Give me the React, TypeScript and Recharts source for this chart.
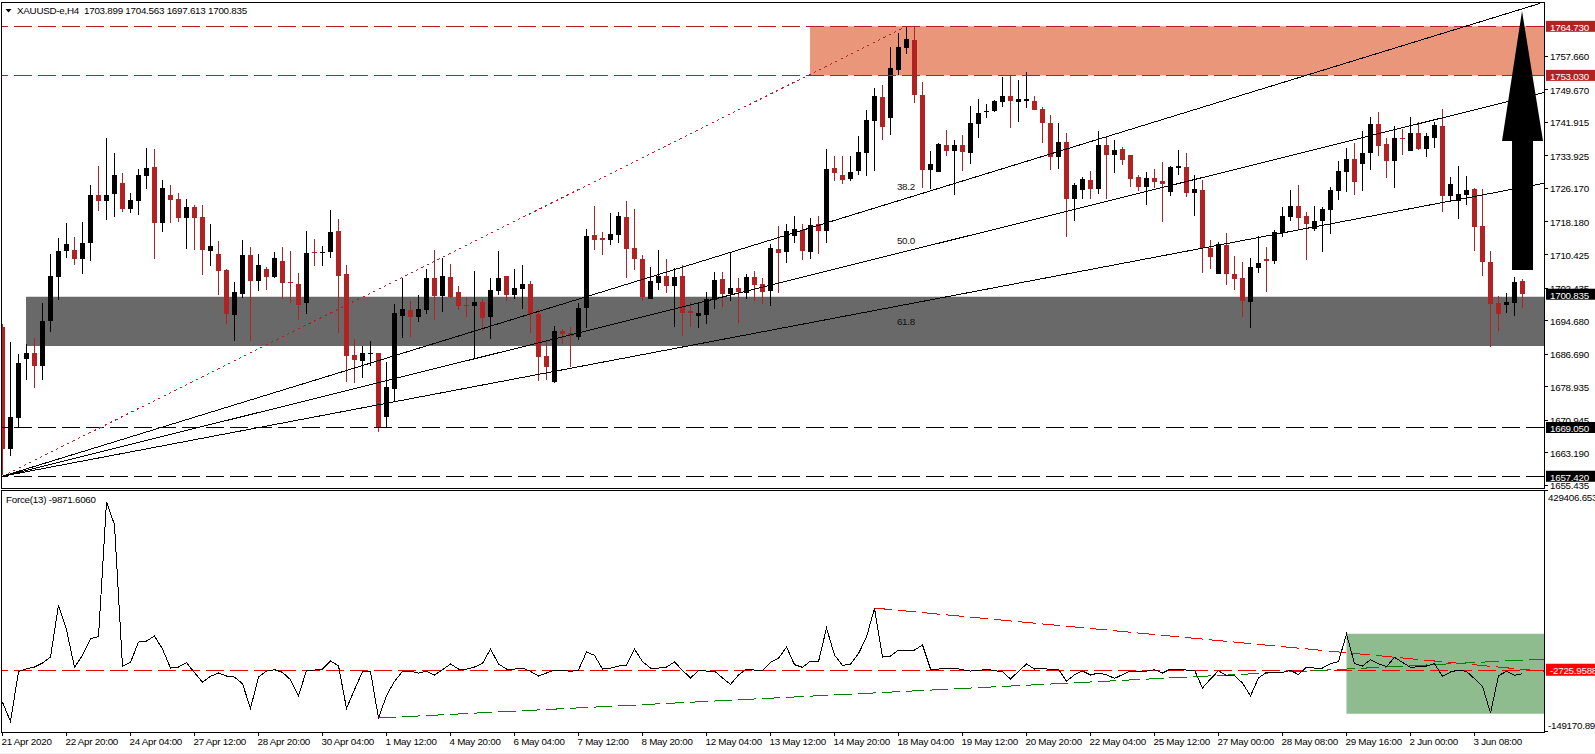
import {
  Bar,
  ComposedChart,
  Line,
  ReferenceArea,
  ReferenceDot,
  ReferenceLine,
  XAxis,
  YAxis,
} from "recharts";

const opens = [
  1693.1,1664,1671.4,1685.4,1686.8,1683.8,1694.5,1705,1711.1,1711.4,
  1709.2,1713,1724.5,1723.1,1724.7,1727.4,1721.2,1723.1,1729.1,1731.2,
  1717.8,1724.5,1723.5,1719,1721.6,1719.2,1711.1,1710.4,1706.6,1695.9,
  1700.9,1710.2,1704,1706.8,1705,1708.7,1703.8,1703.3,1698.7,1710.9,
  1710.7,1710.9,1715.9,1705.7,1686.3,1684.9,1686.5,1686.8,1671.5,1678.2,
  1695.6,1697.1,1695.4,1697.1,1704.7,1700.4,1704.9,1701.4,1698.2,1698,
  1699,1695.4,1701.6,1705.2,1700.6,1702.1,1703.3,1696.1,1686.1,1679.9,
  1692,1691.6,1690.6,1697.5,1714.9,1714.2,1713.8,1715,1719.2,1711.9,
  1709.2,1699.7,1703.5,1705.2,1702.8,1705.2,1696.8,1695.6,1695.9,1699.4,
  1704.5,1700.9,1702.3,1701.1,1704.9,1703.3,1701.6,1711.6,1710.9,1714.7,
  1716.2,1710.9,1717.6,1715.9,1730.9,1729.3,1728.3,1730.2,1734.5,1742.1,
  1747.9,1742.9,1754.3,1759.6,1761.5,1748.3,1730.4,1730,1736.4,1735,
  1736.4,1734.5,1741.4,1744.4,1744.5,1746.7,1748.1,1746.7,1746.9,1746.9,
  1745,1741.7,1733.6,1737.1,1723.5,1725.7,1728.1,1725.9,1736.4,1734,
  1735.5,1734,1728.8,1726.4,1728.6,1727.8,1725.2,1730.9,1731.2,1725,
  1725.8,1711.9,1705.6,1712.6,1705.6,1704.6,1698.9,1707,1709.2,1708.7,
  1715.4,1719.3,1721.9,1719.5,1716.4,1718.3,1721,1725.5,1729.9,1733.2,
  1731.8,1734.4,1741.4,1736.6,1732.7,1738.2,1735.1,1739.2,1735.4,1738.2,
  1740.9,1724.3,1723.1,1724.6,1725.9,1717.1,1708.5,1698.7,1698.2,1698.7,1703.899,
];

const highs = [
  1693.7,1689.5,1686.5,1689,1690.5,1698.7,1710.4,1714.2,1717.8,1714.5,
  1718,1726.9,1731.4,1738.1,1734.5,1729.7,1725,1730.7,1735.7,1735.5,
  1728.1,1726.9,1725,1723.5,1722.1,1722.1,1717.6,1713.5,1706.8,1703.7,
  1713.8,1712.1,1710.4,1707.3,1710.9,1712.1,1711.1,1705.9,1715.9,1714,
  1712.3,1720.9,1718.8,1707.8,1690.1,1688.5,1689.7,1686.8,1684.7,1698.5,
  1704.7,1699.2,1700.6,1706.8,1711.4,1709.4,1708,1702.8,1700.2,1706.4,
  1699.7,1704.7,1711.1,1705.2,1706.8,1707.8,1704,1697.3,1689.9,1693.2,
  1692.5,1693,1698.7,1716.4,1721.9,1715.7,1720.2,1720.4,1723.1,1721.2,
  1710.2,1707.3,1711.4,1709.2,1707.1,1707.8,1699,1698.7,1701.4,1706.1,
  1706.1,1710.7,1704.7,1705.6,1706.4,1704.7,1712.8,1717.1,1717.6,1719.5,
  1717.5,1719,1719.5,1735.5,1733.8,1733.8,1733.8,1738.6,1744.8,1750,
  1750.7,1759.8,1763.1,1764.7,1764.8,1751.4,1735,1736.9,1740,1737.6,
  1738.8,1745.7,1747.4,1746.2,1747.1,1752.6,1753.1,1751.9,1753.8,1748.1,
  1745.5,1743.6,1741.7,1739.3,1727.3,1728.8,1730.2,1739.8,1738.3,1737.6,
  1735.9,1734,1729.2,1730,1730.7,1732.4,1731.3,1735.2,1734.5,1729.3,
  1728,1713.8,1713.3,1715.4,1710,1708.5,1709.4,1714.7,1712.1,1716.2,
  1721.7,1725.8,1727,1720.5,1721.9,1721.7,1726.5,1732.7,1735.6,1736.8,
  1739.7,1743,1744.2,1738,1740.9,1740.2,1743,1741.8,1739.4,1741.9,
  1745,1728.9,1731.3,1729.1,1726.15,1726,1711.2,1700.4,1701.1,1704.9,1704.563,
];

const lows = [
  1657.7,1662.2,1669.1,1680.4,1678.5,1680.4,1691.9,1699.5,1709.5,1707.8,
  1705.7,1708.7,1720.7,1718.5,1719.2,1720.4,1720.2,1719.7,1725.9,1709.3,
  1715.7,1717.8,1718.1,1711.6,1711.4,1705.4,1707.6,1700.6,1693.7,1689.7,
  1700,1689.7,1701.6,1701.8,1704.7,1699.7,1698.7,1694.7,1696.1,1707.6,
  1707.6,1709.5,1691.6,1679.9,1679.7,1680.8,1683.7,1668,1669.1,1675.1,
  1690.4,1690.6,1694.2,1696,1694.7,1696.6,1700,1697.1,1695.4,1685.6,
  1692,1690.2,1700.6,1699.2,1699.7,1697.3,1691.6,1680.1,1680.4,1679.6,
  1689,1683.5,1689.9,1692.8,1711.4,1710.2,1712.6,1713,1704.7,1706.6,
  1699.2,1699.7,1701.8,1701.1,1693,1690.9,1693,1692.8,1693.7,1697.3,
  1697.8,1699.2,1694,1699.7,1699.2,1698.5,1698,1701.1,1708.3,1713,
  1709,1709.2,1710.4,1713,1727.8,1727.1,1727.8,1729.2,1729,1730.2,
  1737.6,1738.8,1753.1,1758.1,1746.4,1726.2,1725.9,1730,1733.8,1724.5,
  1730.2,1731.9,1738.1,1742.9,1744.3,1745.5,1740.5,1741.9,1745.2,1744.7,
  1736.9,1730.4,1730.7,1714.5,1718.3,1723.5,1723.5,1724.7,1723.5,1729.7,
  1731.6,1726.4,1725.4,1722.1,1726.2,1718.1,1724.2,1729.3,1724,1719.5,
  1705.9,1707,1705.6,1703,1702,1695.5,1692.6,1705.9,1701.3,1708,
  1714.5,1718.3,1716.4,1709,1715.9,1710.9,1715.4,1723.4,1725,1724.3,
  1725.5,1730.3,1733.7,1728.4,1726.2,1733.9,1734.9,1735.1,1733.7,1735.8,
  1720.5,1723.1,1718.6,1722.2,1711.2,1705.2,1688.2,1692,1696.3,1695.6,1697.613,
];

const closes = [
  1664,1671.5,1684.4,1686.8,1683.8,1694.4,1705.2,1711.1,1712.8,1709.2,
  1713,1724.5,1723.1,1724.5,1729.3,1721.2,1723.3,1729.3,1730.9,1717.8,
  1726.2,1723.3,1719,1721.6,1719,1711.4,1712.3,1706.4,1696.1,1701.4,
  1710.2,1704,1707.8,1705,1709.5,1703.5,1703.5,1698.3,1710.7,1710.7,
  1710.9,1715.7,1705.2,1686.1,1685.1,1686.8,1686.7,1669.2,1678.7,1696.3,
  1697.3,1695.4,1697.3,1704.7,1700.4,1705.2,1700.2,1698,1698.1,1699,
  1695.2,1701.8,1704.7,1700.6,1702.3,1703.3,1696.1,1685.9,1683.5,1692,
  1691.3,1690.9,1697.5,1714.7,1713.8,1713.8,1715.2,1719.5,1711.6,1709.2,
  1700.2,1704,1705.2,1702.8,1704.9,1696.3,1696.3,1696.3,1699.7,1704.2,
  1700.9,1702.3,1701.4,1704.9,1703,1701.4,1711.9,1710.7,1715.9,1716.4,
  1711.1,1717.3,1715.9,1730.7,1729.7,1728.1,1730,1734.8,1742.4,1748.1,
  1740.7,1754.8,1759.8,1761.7,1748.3,1730.4,1731.9,1736.7,1735,1736.4,
  1734.7,1741.7,1744,1744.5,1746.9,1748.1,1746.9,1747.4,1747.4,1744.8,
  1741.7,1733.6,1737.1,1723.5,1726.9,1728.3,1725.9,1736.4,1734,1735.2,
  1732.8,1728.3,1726.4,1728.6,1727.6,1727.1,1731.2,1731.4,1725,1725.9,
  1711.9,1709.7,1712.8,1705.6,1704.4,1699.1,1707.3,1708.2,1708.7,1715.7,
  1719.5,1721.9,1719,1717.6,1718.3,1721.2,1725.8,1730.3,1733.2,1727.7,
  1734.4,1741.4,1736.1,1732.7,1738.2,1737.9,1739.4,1735.4,1738.5,1741.1,
  1724.3,1727.2,1724.8,1725.8,1716.8,1708.5,1698.5,1696.1,1698.9,1703.7,1700.835,
];

const force = [
  -78298,-123722,-4984,2189,6172,15736,30080,154387,95426,5375,
  34064,73900,78682,400639,346450,7767,17330,65931,68322,80276,
  49205,3782,6172,16533,-7375,-30000,-16140,-8171,-15343,-17734,
  -33672,-92642,-17734,-3390,-202,-6578,-24109,-63153,-1796,-999,
  1391,20517,9361,-92642,-48012,-4984,-4984,-115752,-62356,-28094,
  -4187,-3390,-8171,-4187,-12952,-202,13345,1391,1391,6172,
  14939,49205,13345,1391,1391,3782,-4187,-15343,-8171,-999,
  -999,-4187,-999,42033,34064,1391,3782,8564,10955,49205,
  18924,3782,3782,6172,18127,-1796,-20125,-2593,-3390,-3390,
  -20125,-35266,-12952,1391,-999,-2593,17330,26892,53986,11752,
  5375,20517,18924,99401,34861,10158,13345,38048,77885,146418,
  30080,32470,46814,46814,46814,58768,1391,1391,3782,3782,
  -202,-3390,-2593,1391,-2593,-4984,-22515,-4187,13345,1391,
  3782,-202,1391,-28094,-12156,-3390,-12952,-8171,-12156,-20921,
  -12156,-3390,-3390,-3390,-202,-8171,1391,1391,-999,-999,
  -44031,-22515,-2593,-14547,-14547,-32078,-63153,-20125,-6578,-6578,
  -6578,-1796,-12156,6172,3782,3782,14142,18924,85057,14142,
  8564,23705,14142,6969,29283,17330,5375,6969,8564,14142,
  -16140,-5781,-999,-4187,-21718,-40047,-103799,-14547,-4187,-13749,-9871.606,
];

const tickLabels = [
  "21 Apr 2020","22 Apr 20:00","24 Apr 04:00","27 Apr 12:00","28 Apr 20:00","30 Apr 04:00",
  "1 May 12:00","4 May 20:00","6 May 04:00","7 May 12:00","8 May 20:00","12 May 04:00",
  "13 May 12:00","14 May 20:00","18 May 04:00","19 May 12:00","20 May 20:00","22 May 04:00",
  "25 May 12:00","27 May 00:00","28 May 08:00","29 May 16:00","2 Jun 00:00","3 Jun 08:00",
];

const priceTicks = [
  1757.66,1749.67,1741.915,1733.925,1726.17,1718.18,1710.425,1702.435,
  1694.68,1686.69,1678.935,1670.945,1663.19,1655.435,
];
const resistance = [1764.73, 1753.03];
const support = [1669.05, 1657.42];
const lastPrice = 1700.835;
const forceTicks = [429406.653, -149170.891];
const forceLevel = -2725.9588;

const fanLabels = ["38.2", "50.0", "61.8"];
const fanLabelPrices = [1726.6, 1713.8, 1694.4];
const fanEndBars = [192.2, 192.68, 192.68];
const fanEndPrices = [1770.2, 1748.94, 1727.3];

const BAR_DOMAIN: [number, number] = [-0.0625, 192.6875];
const RED = "#b22222";
const FONT = "'Liberation Sans', Arial, sans-serif";
const DASH = "18 6";
const textStyle = { fontFamily: FONT, fontSize: 9.8, letterSpacing: -0.25 };

const rows = opens.map((open, i) => ({
  idx: i,
  open,
  high: highs[i],
  low: lows[i],
  close: closes[i],
  force: force[i],
}));
const xTicks = tickLabels.map((_, i) => i * 8);

function Candle(props: any) {
  const { x, y, width, height, payload } = props;
  const { open, high, low, close } = payload;
  const perUnit = height / (high - low);
  const col = Math.floor(x + width / 2);
  const yOf = (p: number) => y + (high - p) * perUnit;
  const top = Math.round(yOf(Math.max(open, close)));
  const bottom = Math.round(yOf(Math.min(open, close)));
  const fill = close < open ? RED : "#000";
  return (
    <g shapeRendering="crispEdges">
      <rect x={col} y={Math.round(y)} width={1} height={Math.max(1, Math.round(height))} fill={fill} />
      <rect x={col - 2} y={top} width={5} height={Math.max(1, bottom - top)} fill={fill} />
    </g>
  );
}

function PriceTick({ x, y, payload }: any) {
  const v = payload.value;
  const box = resistance.includes(v) ? RED : support.includes(v) || v === lastPrice ? "#000" : null;
  return (
    <g>
      {box ? (
        <rect x={x + 2} y={y - 5.5} width={50} height={11} fill={box} />
      ) : (
        <rect x={x} y={Math.round(y)} width={4} height={1} fill="#000" />
      )}
      <text x={x + 6} y={y + 4.5} style={textStyle} fill={box ? "#fff" : "#000"}>
        {v.toFixed(3)}
      </text>
    </g>
  );
}

function ForceTick({ x, y, payload }: any) {
  const v = payload.value;
  if (v === forceLevel) {
    return (
      <g>
        <rect x={x + 2} y={y - 7} width={50} height={12} fill="#ff0000" />
        <text x={x + 6} y={y + 3} style={textStyle} fill="#fff">
          {v.toFixed(4)}
        </text>
      </g>
    );
  }
  const dy = v > 0 ? 11 : -3;
  return (
    <g>
      <rect x={x} y={Math.round(y) - (v > 0 ? 0 : 1)} width={4} height={1} fill="#000" />
      <text x={x + 4} y={y + dy} style={textStyle} fill="#000">
        {v.toFixed(3)}
      </text>
    </g>
  );
}

function DateTick({ x, y, payload }: any) {
  return (
    <g>
      <rect x={Math.floor(x)} y={y} width={1} height={4} fill="#000" />
      <text x={x - 1} y={y + 12.5} style={textStyle} fill="#000">
        {tickLabels[payload.value / 8]}
      </text>
    </g>
  );
}

function UpArrow({ cx, cy }: any) {
  const pts = [
    [0, 0], [21, 130], [11, 130], [11, 259], [-10, 259], [-10, 130], [-20, 130],
  ];
  return <polygon points={pts.map(([a, b]) => `${cx + a},${cy + b}`).join(" ")} fill="#000" />;
}

function FanLabel({ cx, cy, text }: any) {
  return (
    <text x={cx} y={cy + 4} style={textStyle} fill="#111">
      {text}
    </text>
  );
}

function Frame({ left, top, width, height }: any) {
  return <div style={{ position: "absolute", left, top, width, height, background: "#000" }} />;
}

export default function App() {
  return (
    <div style={{ position: "absolute", left: 0, top: 0, width: 1595, height: 754, overflow: "hidden", background: "#fff" }}>
      <div style={{ position: "absolute", left: 0, top: 0 }}>
        <ComposedChart width={1595} height={500} data={rows} margin={{ top: 2, right: 0, bottom: 11, left: 2 }}>
          <XAxis dataKey="idx" type="number" domain={BAR_DOMAIN} hide allowDataOverflow />
          <YAxis
            orientation="right"
            width={51}
            domain={[1654.38, 1770.53]}
            allowDataOverflow
            ticks={[...priceTicks, ...resistance, ...support, lastPrice]}
            interval={0}
            tickSize={0}
            tickMargin={0}
            tickLine={false}
            axisLine={false}
            tick={(p: any) => <PriceTick {...p} />}
          />
          <ReferenceArea x1={100.94} x2={BAR_DOMAIN[1]} y1={resistance[1]} y2={resistance[0]} fill="#e9967a" fillOpacity={1} stroke="none" />
          <ReferenceArea x1={2.94} x2={BAR_DOMAIN[1]} y1={1688.48} y2={1700.24} fill="#696969" fillOpacity={1} stroke="none" />
          <Bar dataKey={(d: any) => [d.low, d.high]} barSize={5} shape={(p: any) => <Candle {...p} />} isAnimationActive={false} />
          {resistance.map((p) => (
            <ReferenceLine key={p} y={p} stroke={RED} strokeDasharray={DASH} shapeRendering="crispEdges" />
          ))}
          {support.map((p) => (
            <ReferenceLine key={p} y={p} stroke="#000" strokeDasharray={DASH} shapeRendering="crispEdges" />
          ))}
          <ReferenceLine
            segment={[{ x: 0, y: support[1] }, { x: 113, y: resistance[0] }]}
            stroke={RED}
            strokeDasharray="2.5 3.5"
            shapeRendering="crispEdges"
          />
          {fanLabels.map((label, i) => (
            <ReferenceLine
              key={label}
              segment={[{ x: 0, y: support[1] }, { x: fanEndBars[i], y: fanEndPrices[i] }]}
              stroke="#000"
              shapeRendering="crispEdges"
            />
          ))}
          {fanLabels.map((label, i) => (
            <ReferenceDot
              key={label}
              x={111.8}
              y={fanLabelPrices[i]}
              r={0}
              shape={(p: any) => <FanLabel {...p} text={label} />}
            />
          ))}
          <ReferenceDot x={189.94} y={1768.4} r={0} shape={(p: any) => <UpArrow {...p} />} />
        </ComposedChart>
      </div>

      <div style={{ position: "absolute", left: 0, top: 490 }}>
        <ComposedChart width={1595} height={264} data={rows} margin={{ top: 0, right: 0, bottom: 0, left: 2 }}>
          <XAxis
            dataKey="idx"
            type="number"
            height={22}
            domain={BAR_DOMAIN}
            allowDataOverflow
            ticks={xTicks}
            interval={0}
            tickSize={0}
            tickMargin={0}
            tickLine={false}
            axisLine={false}
            tick={(p: any) => <DateTick {...p} />}
          />
          <YAxis
            orientation="right"
            width={51}
            domain={[forceTicks[1], forceTicks[0]]}
            allowDataOverflow
            ticks={[...forceTicks, forceLevel]}
            interval={0}
            tickSize={0}
            tickMargin={0}
            tickLine={false}
            axisLine={false}
            tick={(p: any) => <ForceTick {...p} />}
          />
          <ReferenceArea x1={168} x2={BAR_DOMAIN[1]} y1={-105385} y2={85854} fill="#8fbc8f" fillOpacity={1} stroke="none" />
          <ReferenceLine y={forceLevel} stroke="#f00000" strokeDasharray={DASH} shapeRendering="crispEdges" />
          <ReferenceLine segment={[{ x: 109, y: 147150 }, { x: 192.68, y: -4187 }]} stroke="#ff0000" strokeDasharray={DASH} shapeRendering="crispEdges" />
          <ReferenceLine segment={[{ x: 47, y: -115752 }, { x: 192.68, y: 25298 }]} stroke="#008000" strokeDasharray={DASH} shapeRendering="crispEdges" />
          <Line dataKey="force" type="linear" dot={false} stroke="#000" strokeWidth={1} shapeRendering="crispEdges" isAnimationActive={false} />
        </ComposedChart>
      </div>

      <Frame left={1} top={2} width={1544} height={1} />
      <Frame left={1} top={2} width={1} height={487} />
      <Frame left={1} top={488} width={1544} height={1} />
      <Frame left={1} top={490} width={1544} height={1} />
      <Frame left={1} top={490} width={1} height={243} />
      <Frame left={1} top={732} width={1544} height={1} />
      <Frame left={1544} top={2} width={1} height={487} />
      <Frame left={1544} top={490} width={1} height={243} />
      <div style={{ position: "absolute", left: 0, top: 753, width: 1595, height: 1, background: "#f0f0f0" }} />

      <svg style={{ position: "absolute", left: 5, top: 8 }} width={8} height={6}>
        <polygon points="0.5,1 6.5,1 3.5,4.5" fill="#000" />
      </svg>
      <div style={{ position: "absolute", left: 17, top: 5, font: `9.8px/11px ${FONT}`, letterSpacing: -0.25, color: "#000", whiteSpace: "pre" }}>
        XAUUSD-e,H4  1703.899 1704.563 1697.613 1700.835
      </div>
      <div style={{ position: "absolute", left: 6, top: 494, font: `9.8px/11px ${FONT}`, letterSpacing: -0.25, color: "#000", whiteSpace: "pre" }}>
        Force(13) -9871.6060
      </div>
    </div>
  );
}
